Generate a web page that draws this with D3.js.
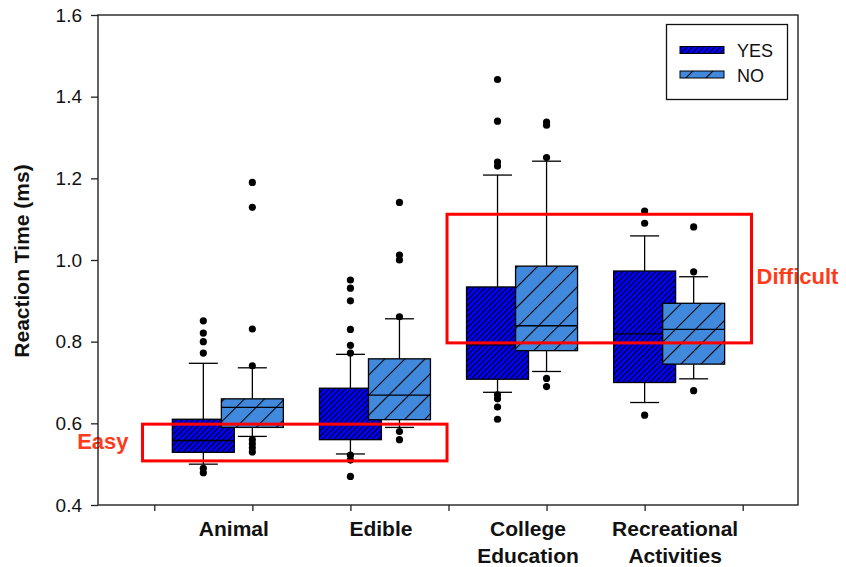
<!DOCTYPE html>
<html lang='en'>

<head>
   <meta charset='UTF-8'>
   <title>Reaction time box plot</title>
   <script src='https://d3js.org/d3.v7.min.js'></script>
   <style>
      body {
         margin: 0;
         background: #fff;
      }

      svg {
         display: block;
         font-family: 'Liberation Sans', Arial, Helvetica, sans-serif;
      }
   </style>
</head>

<body>
   <div id='chart'></div>
   <script>

      const categories = ['Animal', 'Edible', 'College\nEducation', 'Recreational\nActivities'];
      const seriesNames = ['YES', 'NO'];

      // YES : whiskers, quartiles, median, outliers
      const yesLower = [0.500, 0.525, 0.676, 0.651];
      const yesQ1 = [0.529, 0.560, 0.708, 0.700];
      const yesMedian = [0.558, 0.597, 0.792, 0.819];
      const yesQ3 = [0.610, 0.686, 0.934, 0.973];
      const yesUpper = [0.747, 0.769, 1.208, 1.059];
      const yesOutliers = [
         [0.851, 0.821, 0.800, 0.772, 0.490, 0.479],
         [0.951, 0.931, 0.900, 0.830, 0.791, 0.772, 0.522, 0.510, 0.470],
         [1.442, 1.340, 1.240, 1.230, 0.670, 0.660, 0.640, 0.610],
         [1.120, 1.090, 0.620]
      ];

      // NO
      const noLower = [0.568, 0.590, 0.727, 0.709];
      const noQ1 = [0.590, 0.609, 0.778, 0.745];
      const noMedian = [0.639, 0.669, 0.839, 0.830];
      const noQ3 = [0.660, 0.758, 0.985, 0.894];
      const noUpper = [0.736, 0.856, 1.242, 0.959];
      const noOutliers = [
         [1.190, 1.129, 0.831, 0.741, 0.560, 0.550, 0.540, 0.530],
         [1.141, 1.012, 1.000, 0.861, 0.580, 0.560],
         [1.338, 1.330, 1.251, 0.710, 0.690],
         [1.081, 0.971, 0.680]
      ];

      const yTicks = [0.4, 0.6, 0.8, 1.0, 1.2, 1.4, 1.6];
      const xTicks = [1, 2, 3, 4, 5, 6, 7];

      // red annotation rectangles (x in axis units, y in seconds)
      const regionLabels = ['Easy', 'Difficult'];
      const regionX0 = [0.88, 3.985];
      const regionX1 = [3.985, 7.09];
      const regionY0 = [0.508, 0.797];
      const regionY1 = [0.598, 1.112];

      const W = 846, H = 567;
      const margins = { top: 15, right: 48, bottom: 62, left: 98 };

      const svg = d3.select('#chart').append('svg').attr('width', W).attr('height', H);

      const x = d3.scaleLinear().domain([0.426, 7.564]).range([margins.left, W - margins.right]);
      const y = d3.scaleLinear().domain([0.4, 1.6]).range([H - margins.bottom, margins.top]);
      const unit = x(1) - x(0);

      const groupX = d3.scalePoint().domain(categories).range([x(1.75), x(6.25)]);

      // hatch patterns
      const defs = svg.append('defs');
      const makeHatch = (id, fill, gap) => {
         const p = defs.append('pattern')
            .attr('id', id)
            .attr('patternUnits', 'userSpaceOnUse')
            .attr('width', gap)
            .attr('height', gap)
            .attr('patternTransform', 'rotate(45)');
         p.append('rect').attr('width', gap).attr('height', gap).attr('fill', fill);
         p.append('line')
            .attr('x1', 0.5).attr('x2', 0.5)
            .attr('y1', 0).attr('y2', gap)
            .attr('stroke', '#000')
            .attr('stroke-width', 1.1);
      };
      makeHatch('hatchYes', '#0000ff', 3.9);
      makeHatch('hatchNo', '#4189dc', 14.2);
      const fills = ['url(#hatchYes)', 'url(#hatchNo)'];

      const series = [
         { lower: yesLower, q1: yesQ1, med: yesMedian, q3: yesQ3, upper: yesUpper, out: yesOutliers, shift: -0.25 },
         { lower: noLower, q1: noQ1, med: noMedian, q3: noQ3, upper: noUpper, out: noOutliers, shift: 0.25 }
      ];

      const boxHalf = 0.316 * unit;
      const capHalf = 14.5;

      const plot = svg.append('g');

      categories.forEach((c, i) => {
         series.forEach((s, k) => {
            const cx = groupX(c) + s.shift * unit;
            const g = plot.append('g');

            // whiskers
            g.append('line')
               .attr('x1', cx).attr('x2', cx)
               .attr('y1', y(s.upper[i])).attr('y2', y(s.q3[i]))
               .attr('stroke', '#000').attr('stroke-width', 1.3);
            g.append('line')
               .attr('x1', cx).attr('x2', cx)
               .attr('y1', y(s.q1[i])).attr('y2', y(s.lower[i]))
               .attr('stroke', '#000').attr('stroke-width', 1.3);
            [s.upper[i], s.lower[i]].forEach(v => {
               g.append('line')
                  .attr('x1', cx - capHalf).attr('x2', cx + capHalf)
                  .attr('y1', y(v)).attr('y2', y(v))
                  .attr('stroke', '#000').attr('stroke-width', 1.3);
            });

            // box
            g.append('rect')
               .attr('x', cx - boxHalf)
               .attr('y', y(s.q3[i]))
               .attr('width', boxHalf * 2)
               .attr('height', y(s.q1[i]) - y(s.q3[i]))
               .attr('fill', fills[k])
               .attr('stroke', '#000')
               .attr('stroke-width', 1.3);

            // median
            g.append('line')
               .attr('x1', cx - boxHalf).attr('x2', cx + boxHalf)
               .attr('y1', y(s.med[i])).attr('y2', y(s.med[i]))
               .attr('stroke', '#000').attr('stroke-width', 1.3);

            // outliers
            g.selectAll('circle').data(s.out[i])
               .enter()
               .append('circle')
               .attr('cx', cx)
               .attr('cy', d => y(d))
               .attr('r', 3.6)
               .attr('fill', '#000');
         });
      });

      // red rectangles + labels
      regionLabels.forEach((lab, i) => {
         plot.append('rect')
            .attr('x', x(regionX0[i]))
            .attr('y', y(regionY1[i]))
            .attr('width', x(regionX1[i]) - x(regionX0[i]))
            .attr('height', y(regionY0[i]) - y(regionY1[i]))
            .attr('fill', 'none')
            .attr('stroke', '#ff0000')
            .attr('stroke-width', 3);
      });
      const midY = i => y((regionY0[i] + regionY1[i]) / 2);
      svg.append('text')
         .attr('x', x(regionX0[0]) - 14)
         .attr('y', midY(0) + 6)
         .attr('text-anchor', 'end')
         .attr('font-size', '22px')
         .attr('font-weight', 'bold')
         .attr('fill', '#ff3b1a')
         .text(regionLabels[0]);
      svg.append('text')
         .attr('x', x(regionX1[1]) + 5)
         .attr('y', midY(1) + 5)
         .attr('font-size', '22px')
         .attr('font-weight', 'bold')
         .attr('fill', '#ff3b1a')
         .text(regionLabels[1]);

      // axes
      const yAxis = svg.append('g')
         .attr('transform', `translate(${margins.left}, 0)`)
         .call(d3.axisLeft(y).tickValues(yTicks).tickFormat(d3.format('.1f')).tickSize(7).tickPadding(9));
      const xAxis = svg.append('g')
         .attr('transform', `translate(0, ${H - margins.bottom})`)
         .call(d3.axisBottom(x).tickValues(xTicks).tickFormat('').tickSize(6));
      [yAxis, xAxis].forEach(a => {
         a.select('.domain').remove();
         a.selectAll('.tick line').attr('stroke', '#222').attr('stroke-width', 1.3);
      });
      yAxis.selectAll('.tick text')
         .attr('font-size', '19px')
         .attr('font-family', "'Liberation Sans', Arial, sans-serif")
         .attr('fill', '#111');

      // category labels
      categories.forEach(c => {
         const t = svg.append('text')
            .attr('x', groupX(c) + 6)
            .attr('y', 536)
            .attr('text-anchor', 'middle')
            .attr('font-size', '21px')
            .attr('font-weight', 'bold')
            .attr('fill', '#111');
         c.split('\n').forEach((line, j) => {
            t.append('tspan')
               .attr('x', groupX(c) + 6)
               .attr('dy', j === 0 ? 0 : 26.5)
               .text(line);
         });
      });

      // y title
      svg.append('text')
         .attr('transform', `translate(29, ${(margins.top + H - margins.bottom) / 2 + 1}) rotate(-90)`)
         .attr('text-anchor', 'middle')
         .attr('font-size', '21px')
         .attr('font-weight', 'bold')
         .attr('fill', '#111')
         .text('Reaction Time (ms)');

      // legend
      const legend = svg.append('g');
      legend.append('rect')
         .attr('x', 666.5).attr('y', 24.5)
         .attr('width', 121).attr('height', 75)
         .attr('fill', '#fff')
         .attr('stroke', '#111')
         .attr('stroke-width', 1.3);
      seriesNames.forEach((name, k) => {
         legend.append('rect')
            .attr('x', 680).attr('y', 46.5 + k * 24.5)
            .attr('width', 44).attr('height', 7)
            .attr('fill', fills[k])
            .attr('stroke', '#000')
            .attr('stroke-width', 1);
         legend.append('text')
            .attr('x', 737).attr('y', 56.5 + k * 25)
            .attr('font-size', '18px')
            .attr('fill', '#111')
            .text(name);
      });

      // plot frame on top
      svg.append('rect')
         .attr('x', margins.left).attr('y', margins.top)
         .attr('width', W - margins.left - margins.right)
         .attr('height', H - margins.top - margins.bottom)
         .attr('fill', 'none')
         .attr('stroke', '#222')
         .attr('stroke-width', 1.4);

   </script>
</body>

</html>
